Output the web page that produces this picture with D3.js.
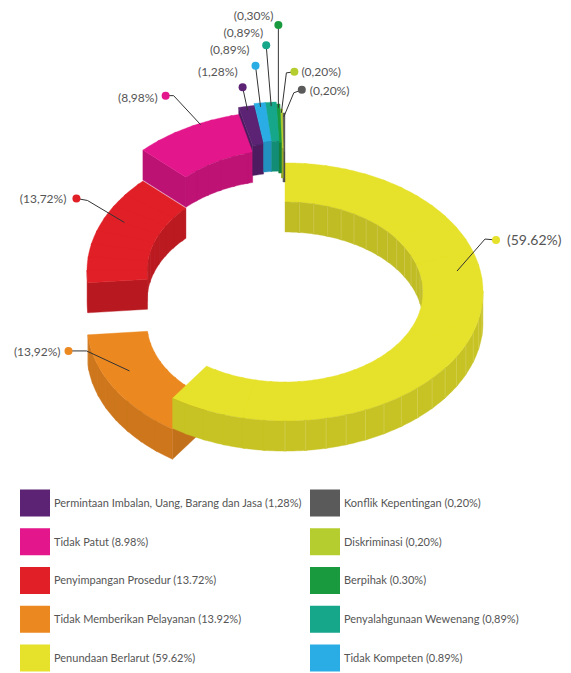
<!DOCTYPE html>
<html>
<head>
<meta charset="utf-8">
<script src="https://cdn.jsdelivr.net/npm/d3@7"></script>
<style>
  body { margin: 0; background: #fff; }
  text { font-family: Lato, "Open Sans", sans-serif; }
</style>
</head>
<body>
<div id="chart"></div>
<script>
// slices listed counter-clockwise from 12 o'clock
var categories = ["Konflik Kepentingan", "Diskriminasi", "Berpihak", "Penyalahgunaan Wewenang", "Tidak Kompeten",
  "Permintaan Imbalan, Uang, Barang dan Jasa", "Tidak Patut", "Penyimpangan Prosedur", "Tidak Memberikan Pelayanan", "Penundaan Berlarut"];
var values = [0.20, 0.20, 0.30, 0.89, 0.89, 1.28, 8.98, 13.72, 13.92, 59.62];
var sliceLabels = ["(0,20%)", "(0,20%)", "(0,30%)", "(0,89%)", "(0,89%)", "(1,28%)", "(8,98%)", "(13,72%)", "(13,92%)", "(59.62%)"];
var legendValues = ["(0,20%)", "(0,20%)", "(0.30%)", "(0,89%)", "(0.89%)", "(1,28%)", "(8.98%)", "(13.72%)", "(13.92%)", "(59.62%)"];
var colors = ["#5a5a5a", "#b6cd2f", "#1a9a3e", "#16a78b", "#29ade4", "#5c2273", "#e3168c", "#e01f27", "#ec8820", "#e6e12a"];

// layout: how high each slice floats (px) and where its callout goes
var lift = [50, 54, 59, 61, 61, 59, 52, 21, -31, 0];
var callouts = [
  {t: 0.5, r: 192, elbow: [10, -24], dot: [18, -27], tx: 8, ty: 1, side: "start", size: 12},
  {t: 0.5, r: 192, elbow: [5, -40], dot: [13, -41], tx: 7, ty: 0, side: "start", size: 12},
  {t: 0.5, r: 192, elbow: null, dot: [0, -83], tx: -5, ty: -9, side: "end", size: 12},
  {t: 0.5, r: 192, elbow: null, dot: [-5, -61], tx: -3, ty: -12, side: "end", size: 12},
  {t: 0.5, r: 192, elbow: null, dot: [-5, -41], tx: -6, ty: -16, side: "end", size: 12},
  {t: 0.5, r: 192, elbow: null, dot: [-5, -23], tx: -5, ty: -15, side: "end", size: 12},
  {t: 0.63, r: 196, elbow: [-27, -29], dot: [-35, -29], tx: -8, ty: 2, side: "end", size: 12},
  {t: 0.61, r: 177, elbow: [-37, -22], dot: [-48, -24], tx: -10, ty: 0, side: "end", size: 12},
  {t: 0.6, r: 172, elbow: [-43, -20], dot: [-61, -20], tx: -8, ty: 1, side: "end", size: 12},
  {t: 0.37, r: 175, elbow: [28, -32], dot: [39, -31], tx: 11, ty: 0, side: "start", size: 14}
];

var width = 571, height = 673;
var cx = 285, cy = 292, k = 0.652, ro = 198, ri = 138, thick = 30;
var cosA = Math.sqrt(1 - k * k), tanA = k / cosA;
var deg = Math.PI / 180;

var svg = d3.select("#chart").append("svg")
  .attr("width", width)
  .attr("height", height);

function proj(r, a, z) { return [cx + r * Math.sin(a), cy - k * r * Math.cos(a) - z]; }
function depth(r, a, z) { return r * Math.cos(a) * cosA - z * tanA; }
function arcPts(r, b0, b1, z) {
  var m = Math.max(1, Math.ceil(Math.abs(b1 - b0) / deg)), out = [];
  for (var q = 0; q <= m; q++) out.push(proj(r, b0 + (b1 - b0) * q / m, z));
  return out;
}

var pie = d3.pie().sort(null).value(function(d) { return d; })
  .startAngle(0).endAngle(-2 * Math.PI);
var arcs = pie(values).map(function(p, i) {
  return {i: i, a0: Math.min(p.startAngle, p.endAngle) + 2 * Math.PI, a1: Math.max(p.startAngle, p.endAngle) + 2 * Math.PI};
});

// cut every slice into chunks (never across a quarter), then paint back to front
var faces = [];
var chunk = 6 * deg, quarter = Math.PI / 2, pad = 0.4 * deg;
arcs.forEach(function(s) {
  var c = d3.color(colors[s.i]);
  var top = c.formatHex(), outer = c.darker(0.4).formatHex(), inner = c.darker(0.5).formatHex(), side = c.darker(0.55).formatHex();
  var z1 = lift[s.i], z0 = z1 - thick;
  var cuts = [s.a0], a = s.a0;
  while (a < s.a1 - 1e-9) {
    var nextQ = (Math.floor(a / quarter + 1e-9) + 1) * quarter;
    a = Math.min(a + chunk, nextQ, s.a1);
    cuts.push(a);
  }
  for (var j = 0; j < cuts.length - 1; j++) {
    var b0 = cuts[j], b1 = cuts[j + 1], bm = (b0 + b1) / 2;
    // overlap neighbours of the same slice a little so no seams show
    var e0 = Math.max(s.a0, b0 - pad), e1 = Math.min(s.a1, b1 + pad);
    faces.push({pts: arcPts(ro, e0, e1, z1).concat(arcPts(ri, e1, e0, z1)), fill: top, d: depth((ro + ri) / 2, bm, z1)});
    var r = Math.cos(bm) < 0 ? ro : ri;
    var seam = j > 0 ? [proj(r, b0, z1), proj(r, b0, z0)] : null;
    faces.push({pts: arcPts(r, e0, e1, z1).concat(arcPts(r, e1, e0, z0)), fill: r === ro ? outer : inner,
      d: depth(r, bm, (z0 + z1) / 2), seam: seam});
  }
  [[s.a0, Math.sin(s.a0) < -1e-6], [s.a1, Math.sin(s.a1) > 1e-6]].forEach(function(e) {
    if (!e[1]) return;
    var a = e[0];
    faces.push({pts: [proj(ro, a, z1), proj(ri, a, z1), proj(ri, a, z0), proj(ro, a, z0)], fill: side, d: depth((ro + ri) / 2, a, (z0 + z1) / 2)});
  });
});
faces.sort(function(a, b) { return b.d - a.d; });

var faceG = svg.append("g").selectAll("g")
  .data(faces)
  .join("g");
faceG.append("path")
  .attr("d", function(f) { return "M" + f.pts.map(function(p) { return p[0].toFixed(2) + "," + p[1].toFixed(2); }).join("L") + "Z"; })
  .attr("fill", function(f) { return f.fill; })
  .attr("stroke", function(f) { return f.fill; })
  .attr("stroke-width", 0.4)
  .attr("stroke-linejoin", "round");
faceG.filter(function(f) { return f.seam; })
  .append("path")
  .attr("d", function(f) { return d3.line()(f.seam); })
  .attr("stroke", "#fff")
  .attr("stroke-opacity", 0.25)
  .attr("stroke-width", 0.7);

// callouts
var labels = svg.append("g");
arcs.forEach(function(s) {
  var c = callouts[s.i];
  var a = s.a0 + (s.a1 - s.a0) * c.t;
  var p = proj(c.r, a, lift[s.i]);
  var dot = [p[0] + c.dot[0], p[1] + c.dot[1]];
  var pts = [p];
  if (c.elbow) pts.push([p[0] + c.elbow[0], p[1] + c.elbow[1]]);
  pts.push(dot);
  labels.append("path")
    .attr("d", d3.line()(pts))
    .attr("fill", "none")
    .attr("stroke", "#333")
    .attr("stroke-width", 1);
  labels.append("circle")
    .attr("cx", dot[0]).attr("cy", dot[1]).attr("r", 4)
    .attr("fill", colors[s.i]);
  labels.append("text")
    .attr("x", dot[0] + c.tx)
    .attr("y", dot[1] + c.ty)
    .attr("dy", "0.35em")
    .attr("text-anchor", c.side)
    .style("font-size", c.size + "px")
    .attr("fill", "#555")
    .text(sliceLabels[s.i]);
});

// legend: left column is the big slices, right column the small ones
var legendCols = [[5, 6, 7, 8, 9], [0, 1, 2, 3, 4]];
var colX = [20, 310];
var rowY = d3.scalePoint().domain(d3.range(5)).range([503, 658]);
var legend = svg.append("g");
legendCols.forEach(function(col, ci) {
  col.forEach(function(idx, ri2) {
    var y = rowY(ri2);
    legend.append("rect")
      .attr("x", colX[ci]).attr("y", y - 13.5)
      .attr("width", 30).attr("height", 27)
      .attr("fill", colors[idx]);
    legend.append("text")
      .attr("x", colX[ci] + 34).attr("y", y)
      .attr("dy", "0.35em")
      .style("font-size", "11px")
      .attr("fill", "#555")
      .text(categories[idx] + " " + legendValues[idx]);
  });
});
</script>
</body>
</html>
